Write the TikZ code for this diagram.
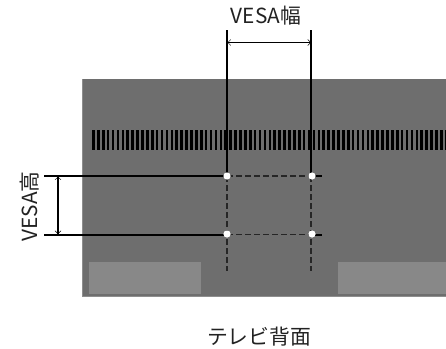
\documentclass[tikz,border=0pt]{standalone}
\usepackage{fontspec}
\setmainfont{Noto Sans CJK JP}
\usetikzlibrary{arrows.meta}
\definecolor{tvgray}{HTML}{6E6E6E}
\definecolor{tvedge}{HTML}{8E8E8E}
\definecolor{padgray}{HTML}{888888}
\definecolor{txtgray}{HTML}{222222}
\tikzset{
  x=1pt,y=-1pt,
  tvbody/.style={fill=tvgray,draw=none},
  padbox/.style={fill=padgray,draw=none},
  slat/.style={draw=black,line width=2.6pt},
  refline/.style={draw=black,line width=2.1pt},
  guide/.style={draw=black!85,line width=1.1pt,dash pattern=on 5.5pt off 3.5pt},
  dimthin/.style={draw=black,line width=0.9pt,{Straight Barb[length=3pt,width=6pt,line width=0.4pt]}-{Straight Barb[length=3pt,width=6pt,line width=0.4pt]}},
  dimthick/.style={draw=black,line width=1.4pt,{Straight Barb[length=3pt,width=6pt,line width=0.4pt]}-{Straight Barb[length=3pt,width=6pt,line width=0.4pt]}},
  holedot/.style={circle,fill=white,draw=none,minimum size=7.2pt,inner sep=0pt},
  label/.style={font=\fontsize{20.8}{24}\selectfont,text=txtgray,inner sep=0pt},
}
\begin{document}
\begin{tikzpicture}
\useasboundingbox (0,0) rectangle (446,348);
\fill[tvedge] (82,79) rectangle (446,296.7);
\fill[tvbody] (82.8,79) rectangle (446,295.8);
\fill[padbox] (89,262) rectangle (201,294);
\fill[padbox] (338,262) rectangle (446,294);
\foreach \i in {0,...,72}{
  \draw[slat] ({93.4+4.9*\i},130) -- ({93.4+4.9*\i},149.5);
}
\coordinate (vl) at (227,30);
\coordinate (vr) at (311,30);
\coordinate (hl) at (44,176);
\coordinate (hb) at (44,234.8);
\coordinate (el) at (227,271);
\coordinate (er) at (311,271);
\coordinate (ert) at (322,176);
\coordinate (erb) at (322,234.8);
\coordinate (wl) at (227.5,42.5);
\coordinate (wr) at (311,42.5);
\coordinate (ht) at (58,176.5);
\coordinate (hbm) at (58,234);
\coordinate (tl0) at (227,176);
\coordinate (tr0) at (311,176);
\coordinate (bl0) at (227,234.8);
\coordinate (br0) at (311,234.8);
% dashed guides
\draw[guide] (tl0) -- (tr0);
\draw[guide] (bl0) -- (br0);
\draw[guide] (tl0) -- (el);
\draw[guide] (tr0) -- (er);
% solid reference lines
\draw[refline] (vl) -- (tl0);
\draw[refline] (vr) -- (tr0);
\draw[refline] (hl) -- (tl0);
\draw[refline] (hb) -- (bl0);
\draw[refline] (tr0) -- (ert);
\draw[refline] (br0) -- (erb);
% holes
\node[holedot] (tl) at (227,176) {};
\node[holedot] (tr) at (312,176) {};
\node[holedot] (bl) at (227,234) {};
\node[holedot] (br) at (312,234) {};
% dimensions
\draw[dimthin] (wl) -- (wr);
\draw[dimthick] (ht) -- (hbm);
% labels
\node[label] (wlab) at (266,16) {VESA幅};
\node[label,rotate=90] (hlab) at (30,206.5) {VESA高};
\node[label] (back) at (259,336.5) {テレビ背面};
\end{tikzpicture}
\end{document}
